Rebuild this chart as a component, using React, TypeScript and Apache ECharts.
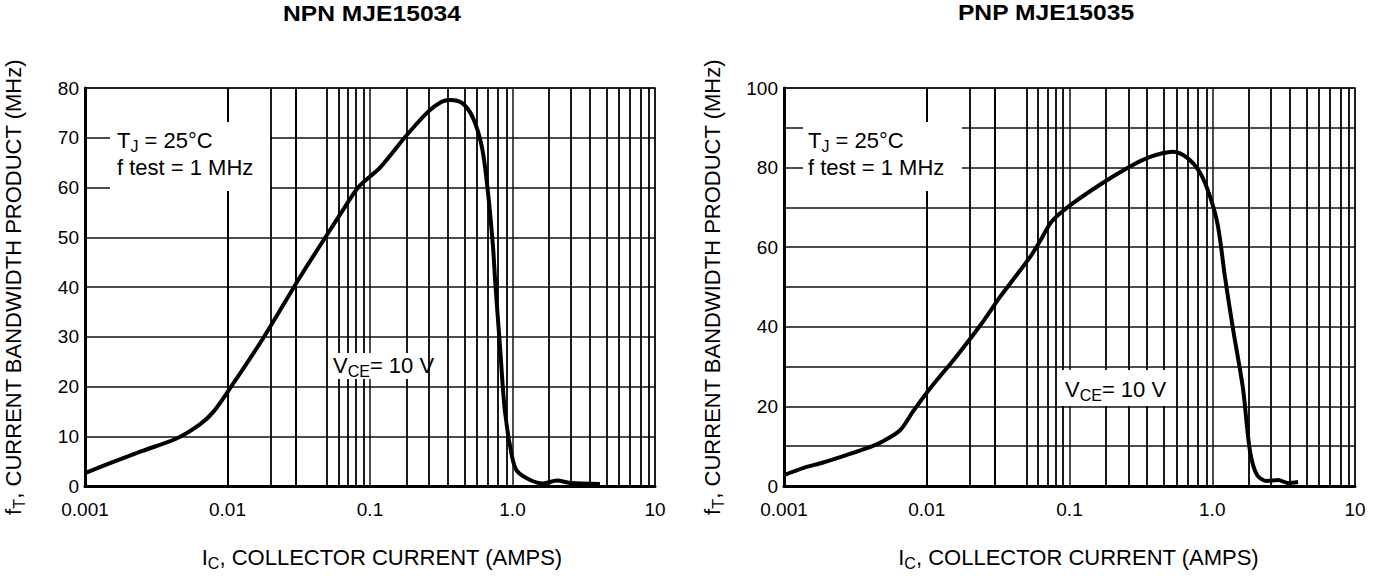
import React, { useEffect, useRef } from "react";
import * as echarts from "echarts";

const FONT = '"Liberation Sans", Arial, Helvetica, sans-serif';

// ---------- data ----------
const xTickLabels = ["0.001", "0.01", "0.1", "1.0", "10"];
const decadeStarts = [0.001, 0.01, 0.1, 1];
// minor grid lines of the chart paper, read per decade
const minorMultipliers = [1.79, 2.58, 3.49, 4.57, 5.59, 6.68, 7.89, 9.05];

const npnTitle = "NPN MJE15034";
const pnpTitle = "PNP MJE15035";

const npnCurrent = [
  0.001, 0.0015, 0.0025, 0.00443, 0.0064, 0.0079, 0.0104, 0.0177, 0.0323, 0.0507,
  0.0647, 0.0824, 0.1, 0.1176, 0.182, 0.255, 0.316, 0.364, 0.442, 0.528, 0.611,
  0.673, 0.73, 0.754, 0.817, 0.885, 0.991, 1.076, 1.33, 1.64, 2.05, 2.53, 4.11,
];
const npnFt = [
  2.6, 4.6, 7.0, 9.6, 12.4, 14.8, 19.6, 29.6, 42, 50.8, 55.5, 60, 62.2, 64, 70.6,
  75.2, 77.2, 77.6, 77, 74, 68, 59, 48, 41.6, 28, 15, 6, 3, 1.2, 0.5, 1.1, 0.6, 0.4,
];

const pnpCurrent = [
  0.001, 0.00136, 0.00188, 0.00259, 0.00381, 0.00494, 0.0065, 0.00802, 0.01054,
  0.0163, 0.0236, 0.0326, 0.0396, 0.0529, 0.0621, 0.0754, 0.1007, 0.1716, 0.2655,
  0.355, 0.447, 0.531, 0.665, 0.82, 0.964, 1.097, 1.228, 1.397, 1.641, 1.838, 2.06,
  2.42, 2.89, 3.4, 3.99,
];
const pnpFt = [
  2.75, 4.5, 5.9, 7.5, 9.5, 11.25, 14, 18.75, 24.5, 32.75, 40.25, 47.5, 51.5, 57.5,
  61.5, 66.5, 70.5, 76.2, 80.3, 82.5, 83.6, 84, 82.5, 78.75, 72.75, 65.25, 52.5,
  39.5, 24.5, 8.75, 2.75, 1.25, 1.5, 0.75, 1,
];

// ---------- styling helpers ----------
const GRID_COLOR = "#111";
const GRID_WIDTH = 1.5;
const rich = {
  b: { fontFamily: FONT, fontSize: 22, lineHeight: 27, color: "#000" },
  s: { fontFamily: FONT, fontSize: 16, lineHeight: 16, verticalAlign: "bottom", color: "#000" },
};

const minorValues: number[] = [];
decadeStarts.forEach((d) => minorMultipliers.forEach((m) => minorValues.push(d * m)));

function xAxisFor(gridIndex: number, namePad: number) {
  return {
    type: "log",
    logBase: 10,
    gridIndex,
    min: 0.001,
    max: 10,
    name: "{b|I}{s|C}{b|, COLLECTOR CURRENT (AMPS)}",
    nameLocation: "middle",
    nameGap: 58,
    nameTextStyle: { fontFamily: FONT, fontSize: 22, color: "#000", rich, padding: [0, 0, 0, namePad] },
    axisLine: { show: true, lineStyle: { color: "#000", width: 3 } },
    axisTick: { show: false },
    axisLabel: {
      show: true,
      margin: 14,
      fontFamily: FONT,
      fontSize: 19,
      color: "#000",
      showMinLabel: true,
      showMaxLabel: true,
      formatter: (v: number) => xTickLabels[Math.round(Math.log10(v)) + 3] ?? "",
    },
    splitLine: { show: true, lineStyle: { color: GRID_COLOR, width: GRID_WIDTH, opacity: 1 } },
  };
}

function yAxisFor(gridIndex: number, max: number, labelStep: number) {
  return {
    type: "value",
    gridIndex,
    min: 0,
    max,
    interval: 10,
    name: "{b|f}{s|T}{b|, CURRENT BANDWIDTH PRODUCT (MHz)}",
    nameLocation: "middle",
    nameGap: 58,
    nameTextStyle: { fontFamily: FONT, fontSize: 22, color: "#000", rich },
    axisLine: { show: true, lineStyle: { color: "#000", width: 3 } },
    axisTick: { show: false },
    axisLabel: {
      margin: 6,
      fontFamily: FONT,
      fontSize: 19,
      color: "#000",
      formatter: (v: number) => (v % labelStep === 0 ? String(v) : ""),
    },
    splitLine: { show: true, lineStyle: { color: GRID_COLOR, width: GRID_WIDTH, opacity: 1 } },
  };
}

function curveSeries(idx: number, xs: number[], ys: number[]) {
  return {
    type: "line",
    xAxisIndex: idx,
    yAxisIndex: idx,
    data: xs.map((x, i) => [x, ys[i]]),
    showSymbol: false,
    smooth: 0.3,
    lineStyle: { color: "#000", width: 4 },
    z: 5,
    silent: true,
    markLine: {
      silent: true,
      symbol: ["none", "none"],
      label: { show: false },
      emphasis: { disabled: true },
      lineStyle: { color: "#000", width: 1.8, type: "solid", opacity: 1 },
      data: minorValues.map((v) => ({ xAxis: v })),
      z: 1,
    },
  };
}

function whiteBox(x: number, y: number, w: number, h: number) {
  return { type: "rect", z: 20, shape: { x, y, width: w, height: h }, style: { fill: "#fff" }, silent: true };
}

function richText(x: number, y: number, text: string) {
  return {
    type: "text",
    z: 21,
    x,
    y,
    silent: true,
    style: {
      text,
      rich,
      fontFamily: FONT,
      fontSize: 22,
      lineHeight: 27,
      fill: "#000",
      align: "left",
      textAlign: "left",
      verticalAlign: "top",
      textVerticalAlign: "top",
    },
  };
}

function titleText(x: number, y: number, text: string) {
  return {
    type: "text",
    z: 21,
    x,
    y,
    scaleX: 1.12,
    silent: true,
    style: {
      text,
      fontFamily: FONT,
      fontSize: 22,
      fontWeight: "bold",
      fill: "#000",
      align: "center",
      textAlign: "center",
      verticalAlign: "top",
      textVerticalAlign: "top",
    },
  };
}

const tjText = "{b|T}{s|J}{b| = 25°C}\n{b|f test = 1 MHz}";
const vceText = "{b|V}{s|CE}{b|= 10 V}";

const option = {
  animation: false,
  backgroundColor: "#fff",
  grid: [
    { left: 85, top: 88, width: 570, height: 400, show: true, borderColor: GRID_COLOR, borderWidth: 1.5, containLabel: false },
    { left: 784, top: 88, width: 571, height: 400, show: true, borderColor: GRID_COLOR, borderWidth: 1.5, containLabel: false },
  ],
  xAxis: [xAxisFor(0, 24), xAxisFor(1, 18)],
  yAxis: [yAxisFor(0, 80, 10), yAxisFor(1, 100, 20)],
  series: [curveSeries(0, npnCurrent, npnFt), curveSeries(1, pnpCurrent, pnpFt)],
  graphic: [
    titleText(372, 2, npnTitle),
    titleText(1046, 1, pnpTitle),
    whiteBox(110, 122, 160, 69),
    richText(117, 127, tjText),
    whiteBox(803, 122, 159, 69),
    richText(808, 127, tjText),
    whiteBox(330, 353, 95, 26),
    richText(333, 352, vceText),
    whiteBox(1062, 370, 114, 36),
    richText(1065, 376, vceText),
  ],
};

export default function App() {
  const ref = useRef<HTMLDivElement>(null);
  useEffect(() => {
    document.body.style.margin = "0";
    const chart = echarts.init(ref.current as HTMLDivElement, null, { renderer: "svg" });
    chart.setOption(option as any);
    return () => chart.dispose();
  }, []);
  return <div ref={ref} style={{ width: 1376, height: 576 }} />;
}
